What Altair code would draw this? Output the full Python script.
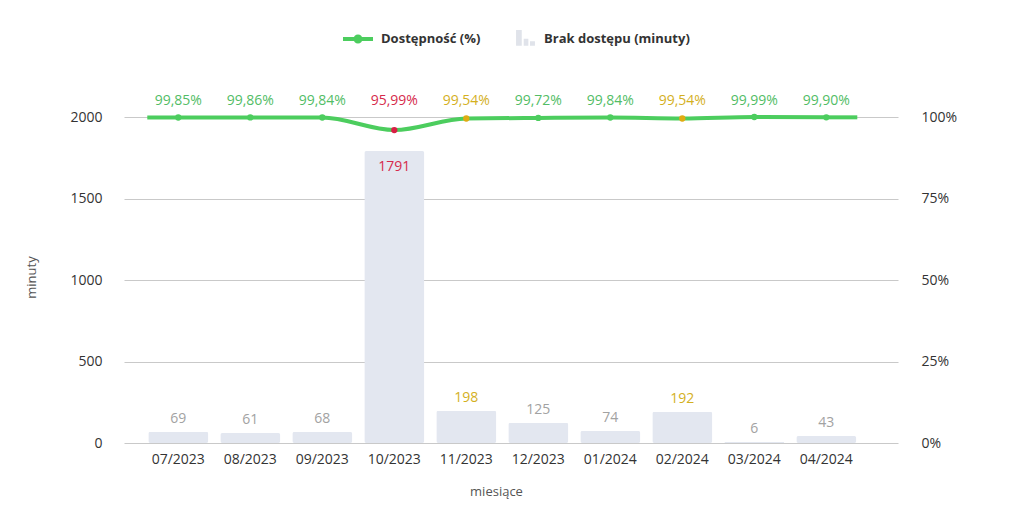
import altair as alt
import pandas as pd

# ---- data ----
months = ["07/2023", "08/2023", "09/2023", "10/2023", "11/2023",
          "12/2023", "01/2024", "02/2024", "03/2024", "04/2024"]
availability = [99.85, 99.86, 99.84, 95.99, 99.54, 99.72, 99.84, 99.54, 99.99, 99.90]
downtime = [69, 61, 68, 1791, 198, 125, 74, 192, 6, 43]
status = ["ok", "ok", "ok", "bad", "warn", "ok", "ok", "warn", "ok", "ok"]
legend_items = ["Dostępność (%)", "Brak dostępu (minuty)"]
left_ticks = [0, 500, 1000, 1500, 2000]
right_ticks = [0, 25, 50, 75, 100]

# ---- styles ----
GREEN = "#4ccd5e"
BAR = "#e3e7f0"
FONT = "Open Sans"
pct_text_colors = {"ok": "#52bd66", "warn": "#d4b01e", "bad": "#d62a4c"}
dot_colors = {"ok": GREEN, "warn": "#e0ab12", "bad": "#d81f45"}
bar_text_colors = {"ok": "#a2a2a2", "warn": "#d4b01e", "bad": "#d62a4c"}

LINE_ICON = ("M-1,-0.13L1,-0.13L1,0.13L-1,0.13Z "
             "M-0.3,0A0.3,0.3 0 1,1 0.3,0A0.3,0.3 0 1,1 -0.3,0Z")
BARS_ICON = ("M-0.33,-0.6L0.05,-0.6L0.05,0.45L-0.33,0.45Z "
             "M0.18,-0.02L0.49,-0.02L0.49,0.45L0.18,0.45Z "
             "M0.6,0.15L0.93,0.15L0.93,0.45L0.6,0.45Z")

df = pd.DataFrame({
    "month": months,
    "avail": availability,
    "downtime": downtime,
    "status": status,
})
df["pct_label"] = [f"{v:.2f}".replace(".", ",") + "%" for v in availability]
df["pct_color"] = [pct_text_colors[s] for s in status]
df["dot_color"] = [dot_colors[s] for s in status]
df["bar_color"] = [bar_text_colors[s] for s in status]

base = alt.Chart(df)

x_axis = alt.Axis(
    title="miesiące", domain=False, ticks=False, tickSize=0,
    labelPadding=16, labelBaseline="middle", labelFontSize=14,
    labelColor="#333333", labelAngle=0,
    titleFontSize=13, titleFontWeight="normal", titleColor="#555555",
    titleX=372, titleY=48, titleBaseline="middle", titleAlign="center",
)
X = alt.X("month:N", sort=months,
          scale=alt.Scale(paddingInner=1 / 6, paddingOuter=0.4583, align=0.368),
          axis=x_axis)

left_axis = alt.Axis(
    values=left_ticks, format="d", grid=True, gridColor="#c9c9c9", gridWidth=1,
    domain=False, ticks=False, tickSize=0, labelPadding=22,
    labelFontSize=14, labelColor="#333333",
    title="minuty", titleFontSize=13, titleFontWeight="normal",
    titleColor="#555555", titleX=-93, titleY=160, titleAngle=270,
    titleAlign="center", titleBaseline="middle",
)
left_scale = alt.Scale(domain=[0, 2000], nice=False)

right_axis = alt.Axis(
    orient="right", values=right_ticks, grid=False, domain=False,
    ticks=False, tickSize=0, labelPadding=23, labelFontSize=14,
    labelColor="#333333", labelExpr="datum.value + '%'", title=None,
)
right_scale = alt.Scale(domain=[0, 100], nice=False)

Y_left = alt.Y("downtime:Q", scale=left_scale, axis=left_axis)
Y_right = alt.Y("avail:Q", scale=right_scale, axis=right_axis)

bars = base.mark_bar(color=BAR, cornerRadius=2).encode(x=X, y=Y_left)
bar_lab_out = base.transform_filter("datum.downtime < 1500").mark_text(
    baseline="middle", dy=-13, fontSize=14
).encode(x=X, y=Y_left, text="downtime:Q",
         color=alt.Color("bar_color:N", scale=None))
bar_lab_in = base.transform_filter("datum.downtime >= 1500").mark_text(
    baseline="middle", dy=16, fontSize=14
).encode(x=X, y=Y_left, text="downtime:Q",
         color=alt.Color("bar_color:N", scale=None))
left = alt.layer(bars, bar_lab_out, bar_lab_in)

line = base.mark_line(interpolate="monotone", color=GREEN, strokeWidth=4).encode(
    x=X, y=Y_right)
ext_l = base.transform_filter(alt.datum.month == months[0]).mark_rule(
    color=GREEN, strokeWidth=4, x2Offset=-31
).encode(x=X, x2=alt.X2("month:N"), y=Y_right)
ext_r = base.transform_filter(alt.datum.month == months[-1]).mark_rule(
    color=GREEN, strokeWidth=4, x2Offset=31
).encode(x=X, x2=alt.X2("month:N"), y=Y_right)
points = base.mark_point(filled=True, size=40, opacity=1).encode(
    x=X, y=Y_right, color=alt.Color("dot_color:N", scale=None))
pct_labels = base.mark_text(baseline="middle", dy=-16, fontSize=14).encode(
    x=X,
    y=alt.Y(datum=100, type="quantitative", scale=right_scale, axis=right_axis),
    text="pct_label:N",
    color=alt.Color("pct_color:N", scale=None),
)
right = alt.layer(line, ext_l, ext_r, points, pct_labels)

leg = alt.Legend(
    title=None, orient="none", legendX=219, legendY=-93, direction="horizontal",
    labelFontSize=13, labelFontWeight="bold", labelColor="#333333",
    labelOffset=8, columnPadding=25, symbolSize=900, symbolStrokeWidth=0,
    padding=0,
)
legend_layer = alt.Chart(pd.DataFrame({"item": legend_items})).mark_point(
    filled=True, opacity=1, size=900
).encode(
    x=alt.value(-3000), y=alt.value(-3000),
    color=alt.Color("item:N", scale=alt.Scale(domain=legend_items, range=[GREEN, "#e0e3ea"]),
                    legend=leg),
    shape=alt.Shape("item:N", scale=alt.Scale(domain=legend_items, range=[LINE_ICON, BARS_ICON]),
                    legend=leg),
)

chart = alt.layer(left, right, legend_layer).resolve_scale(y="independent").properties(
    width=774, height=326, autosize=alt.AutoSizeParams(type="none"),
    padding={"left": 116, "top": 109, "right": 110, "bottom": 60},
).configure(font=FONT).configure_view(stroke=None)

chart.save("out.html", embed_options={"renderer": "svg", "actions": False})
